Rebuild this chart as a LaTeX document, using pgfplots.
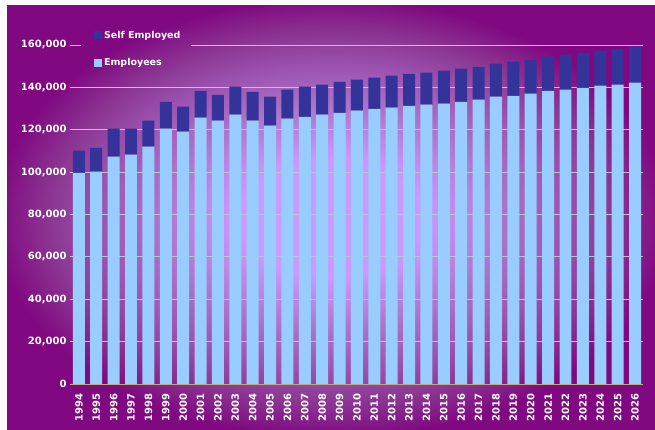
\documentclass[border=0pt]{standalone}
\usepackage{pgfplots}
\usepackage{pgfplotstable}
\pgfplotsset{compat=1.18}
\usepackage{fontspec}
\setmainfont{DejaVu Sans}
\definecolor{bglight}{RGB}{204,153,255}
\definecolor{bgA}{RGB}{170,114,200}
\definecolor{bgB}{RGB}{156,82,176}
\definecolor{bgC}{RGB}{140,56,148}
\definecolor{bgdark}{RGB}{128,8,128}
\definecolor{emp}{RGB}{153,204,255}
\definecolor{selfemp}{RGB}{51,51,153}
\definecolor{gridc}{RGB}{200,190,205}
\definecolor{axc}{RGB}{190,170,130}
\pgfdeclareradialshading{bgshade}{\pgfpoint{0bp}{0bp}}{color(0bp)=(bglight); color(7bp)=(bglight); color(13.5bp)=(bgA); color(18bp)=(bgB); color(21.5bp)=(bgC); color(26bp)=(bgdark); color(50bp)=(bgdark)}
\pgfplotsset{sqlegend/.style={legend image code/.code={\fill[##1] (0pt,-4.2pt) rectangle (8.4pt,4.2pt);}}}

\pgfplotstableread{
year emp self
1994 99700 10400
1995 100200 11300
1996 107300 13200
1997 108200 12300
1998 112000 12300
1999 120500 12700
2000 119100 11800
2001 125700 12700
2002 124300 12200
2003 127100 13200
2004 124300 13600
2005 121900 13700
2006 125200 13700
2007 126100 14200
2008 127100 14200
2009 128000 14600
2010 129000 14600
2011 129900 14700
2012 130400 15100
2013 131300 15100
2014 131800 15100
2015 132300 15600
2016 133200 15600
2017 134200 15500
2018 135600 15600
2019 136000 16100
2020 137000 16000
2021 138400 16100
2022 138900 16500
2023 139800 16500
2024 140800 16500
2025 141300 16900
2026 142200 17000
}\data

\begin{document}
\begin{tikzpicture}
\useasboundingbox (0,0) rectangle (655pt,430pt);
\fill[white] (0,0) rectangle (655pt,430pt);
\shade[shading=bgshade] (7pt,0pt) rectangle (655pt,424pt);
\begin{axis}[
  at={(70pt,46pt)}, anchor=south west,
  scale only axis, width=573pt, height=339pt,
  ybar stacked, bar width=0.69,
  xmin=1993.49, xmax=2026.46, ymin=0, ymax=160000,
  xtick={1994,1995,...,2026},
  xticklabels={1994,1995,1996,1997,1998,1999,2000,2001,2002,2003,2004,2005,2006,2007,2008,2009,2010,2011,2012,2013,2014,2015,2016,2017,2018,2019,2020,2021,2022,2023,2024,2025,2026},
  ytick={0,20000,40000,60000,80000,100000,120000,140000},
  yticklabels={0,{20,000},{40,000},{60,000},{80,000},{100,000},{120,000},{140,000}},
  extra y ticks={160000},
  extra y tick labels={160{,}000},
  extra y tick style={grid=none},
  ymajorgrids,
  grid style={gridc, line width=0.9pt},
  axis line style={draw=none},
  tick style={draw=none},
  scaled ticks=false,
  ticklabel style={text=white, font=\bfseries\fontsize{10}{12}\selectfont},
  x tick label style={rotate=90, anchor=east},
  xticklabel shift=6pt,
  clip=false,
  reverse legend,
  legend cell align=left,
  legend style={at={(0.041,1.048)}, anchor=north west, draw=none, fill=none,
    text=white, font=\bfseries\fontsize{9.5}{11}\selectfont, row sep=15pt,
    inner sep=0pt},
  sqlegend,
]
\addplot[fill=emp, draw=none] table[x=year, y=emp] {\data};
\addplot[fill=selfemp, draw=none] table[x=year, y=self] {\data};
\legend{Employees, Self Employed}
\draw[gridc, line width=0.9pt] (axis cs:1993.49,160000) -- (axis cs:1994.14,160000);
\draw[gridc, line width=0.9pt] (axis cs:2000.47,160000) -- (axis cs:2026.46,160000);
\draw[axc, line width=0.8pt] (rel axis cs:0,0) -- (rel axis cs:1,0);
\end{axis}
\end{tikzpicture}
\end{document}
